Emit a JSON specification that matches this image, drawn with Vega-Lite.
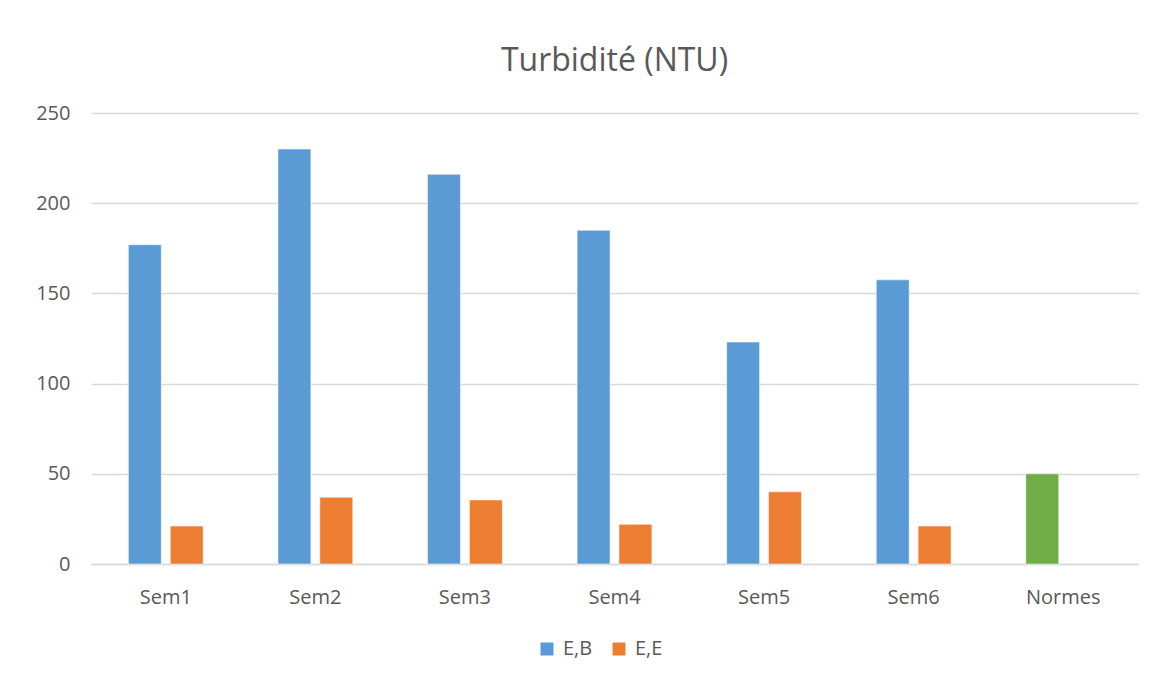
{
  "$schema": "https://vega.github.io/schema/vega-lite/v6.json",
  "autosize": "none",
  "width": 1047,
  "height": 451,
  "padding": {"left": 91, "top": 113, "right": 30, "bottom": 129},
  "background": "white",
  "config": {
    "font": "Open Sans",
    "view": {"stroke": null},
    "axis": {"labelColor": "#595959", "labelFont": "Open Sans", "labelFontSize": 20, "ticks": false, "title": null},
    "legend": {"labelColor": "#595959", "labelFont": "Open Sans", "labelFontSize": 20}
  },
  "title": {"text": "Turbidité (NTU)", "fontSize": 32, "font": "Open Sans", "fontWeight": "normal", "color": "#595959", "anchor": "middle", "offset": 25},
  "data": {"values": [
    {"cat": "Sem1", "serie": "E,B", "value": 177},
    {"cat": "Sem1", "serie": "E,E", "value": 21},
    {"cat": "Sem2", "serie": "E,B", "value": 230},
    {"cat": "Sem2", "serie": "E,E", "value": 37},
    {"cat": "Sem3", "serie": "E,B", "value": 216},
    {"cat": "Sem3", "serie": "E,E", "value": 35.5},
    {"cat": "Sem4", "serie": "E,B", "value": 185},
    {"cat": "Sem4", "serie": "E,E", "value": 22},
    {"cat": "Sem5", "serie": "E,B", "value": 123},
    {"cat": "Sem5", "serie": "E,E", "value": 40},
    {"cat": "Sem6", "serie": "E,B", "value": 157.5},
    {"cat": "Sem6", "serie": "E,E", "value": 21},
    {"cat": "Normes", "serie": "E,B", "value": 50}
  ]},
  "mark": {"type": "bar", "stroke": "#ffffff", "strokeOpacity": 0.5, "strokeWidth": 1},
  "encoding": {
    "x": {"field": "cat", "type": "nominal", "sort": null,
      "scale": {"paddingInner": 0.5, "paddingOuter": 0.25},
      "axis": {"labelAngle": 0, "domainColor": "#d9d9d9", "domainWidth": 1.5, "labelPadding": 23, "grid": false}},
    "xOffset": {"field": "serie", "type": "nominal", "sort": ["E,B", "E,E"],
      "scale": {"paddingInner": 0.214, "paddingOuter": 0}},
    "y": {"field": "value", "type": "quantitative",
      "scale": {"domain": [0, 250]},
      "axis": {"values": [0, 50, 100, 150, 200, 250], "domain": false, "gridColor": "#d9d9d9", "gridWidth": 1.5, "labelPadding": 21}},
    "color": {
      "condition": {"test": "datum.cat === 'Normes'", "value": "#70ad47"},
      "field": "serie", "type": "nominal",
      "scale": {"domain": ["E,B", "E,E"], "range": ["#5b9bd5", "#ed7d31"]},
      "legend": {"orient": "none", "legendX": 446, "legendY": 526, "direction": "horizontal", "title": null, "symbolType": "square", "symbolSize": 169, "symbolStrokeWidth": 0, "labelOffset": 6, "columnPadding": 16}
    }
  }
}
